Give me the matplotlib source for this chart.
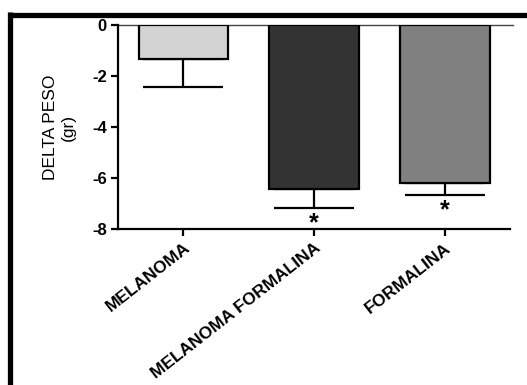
import numpy as np
import matplotlib.pyplot as plt
from matplotlib.lines import Line2D

plt.rcParams['font.family'] = ['Liberation Sans', 'DejaVu Sans']

# data
groups = ['MELANOMA', 'MELANOMA FORMALINA', 'FORMALINA']
delta_peso = [-1.33, -6.43, -6.2]
sem = [1.1, 0.75, 0.47]
bar_colors = ['#d3d3d3', '#333333', '#808080']
significant = [False, True, True]
yticks = [0, -2, -4, -6, -8]

fig = plt.figure(figsize=(5.27, 3.85), dpi=100)
ax = fig.add_axes([0.224, 0.405, 0.744, 0.53])

x = np.arange(len(groups))
ax.bar(x, delta_peso, width=0.685, color=bar_colors, edgecolor='black',
       linewidth=1.6, zorder=2)
ax.errorbar(x, delta_peso, yerr=[sem, [0, 0, 0]], fmt='none', ecolor='black',
            elinewidth=1.6, capsize=29, capthick=1.6, zorder=1)

# significance stars under the error bars
for i, flag in enumerate(significant):
    if flag:
        ax.text(x[i], delta_peso[i] - sem[i] - 0.58, '*', ha='center',
                va='center', fontsize=18, fontweight='bold')

ax.axhline(0, color='#444444', linewidth=1.0, xmin=0, xmax=1.008,
           clip_on=False, zorder=0)

ax.set_xlim(-0.5, 2.5)
ax.set_ylim(-8, 0)
ax.set_yticks(yticks)
ax.set_yticklabels([str(v) for v in yticks], fontweight='bold', fontsize=12)
ax.set_xticks(x)
ax.set_xticklabels(groups, rotation=38, ha='right', rotation_mode='anchor',
                   fontweight='bold', fontsize=12.5)

ax.spines['top'].set_visible(False)
ax.spines['right'].set_visible(False)
ax.spines['left'].set_linewidth(1.6)
ax.spines['bottom'].set_linewidth(1.6)
ax.tick_params(axis='both', direction='out', width=1.6, length=5, pad=3)

ax.set_ylabel('DELTA PESO\n(gr)', fontsize=12.5, labelpad=12)

# thick black frame on top and left of the screenshot
fig.add_artist(Line2D([0.0152, 1.0], [0.9623, 0.9623], color='black',
                      linewidth=3.8, solid_capstyle='butt'))
fig.add_artist(Line2D([0.0199, 0.0199], [0.968, 0.0], color='black',
                      linewidth=3.8, solid_capstyle='butt'))

plt.savefig('out.png', dpi=100)
